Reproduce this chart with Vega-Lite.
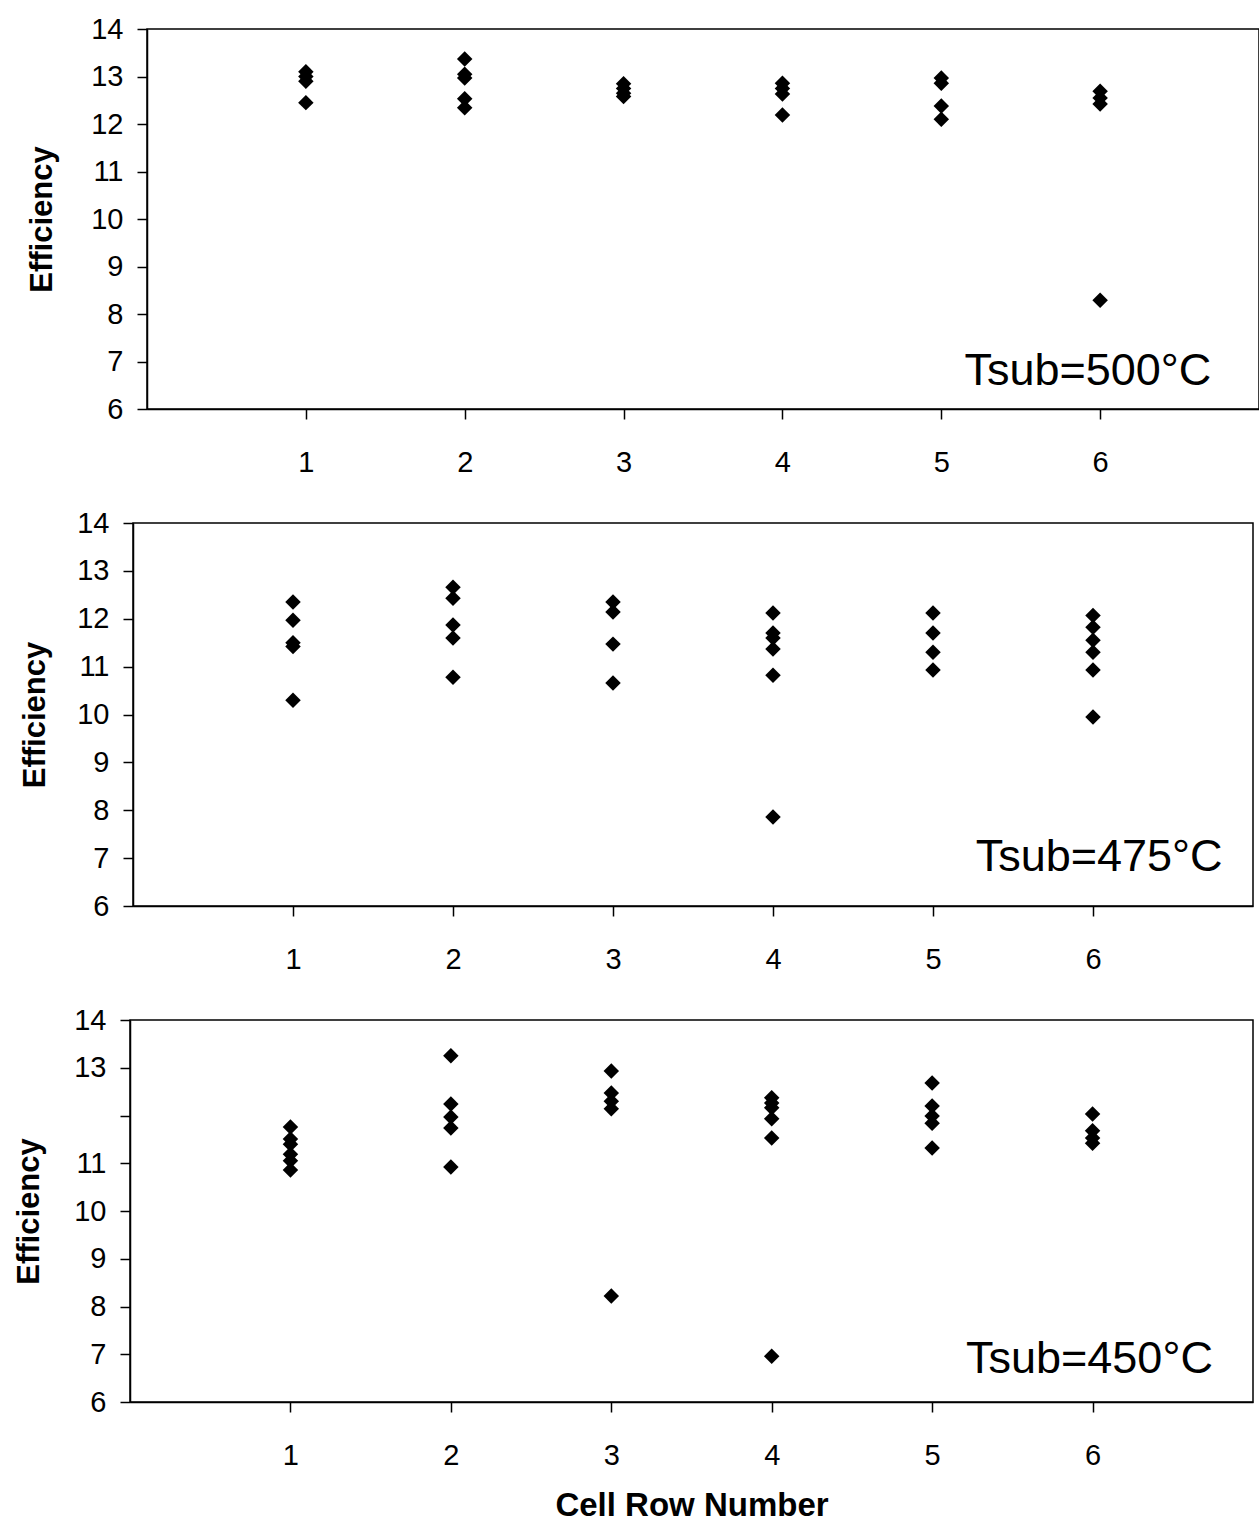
{
  "$schema": "https://vega.github.io/schema/vega-lite/v6.json",
  "padding": {"left": 0, "top": 14, "right": 0, "bottom": 0},
  "spacing": 30,
  "config": {
    "font": "Liberation Sans",
    "view": {"stroke": "black", "strokeWidth": 1.5},
    "concat": {"spacing": 0},
    "axis": {
      "domainColor": "black", "domainWidth": 1.5, "tickColor": "black", "tickWidth": 1.5,
      "labelColor": "black", "titleColor": "black", "grid": false,
      "labelFont": "Liberation Sans", "titleFont": "Liberation Sans"
    }
  },
  "datasets": {
    "pts": [
      {"panel": "500", "row": 1, "eff": 13.1}, {"panel": "500", "row": 1, "eff": 13.0}, {"panel": "500", "row": 1, "eff": 12.9}, {"panel": "500", "row": 1, "eff": 12.45},
      {"panel": "500", "row": 2, "eff": 13.37}, {"panel": "500", "row": 2, "eff": 13.05}, {"panel": "500", "row": 2, "eff": 12.97}, {"panel": "500", "row": 2, "eff": 12.53}, {"panel": "500", "row": 2, "eff": 12.34},
      {"panel": "500", "row": 3, "eff": 12.85}, {"panel": "500", "row": 3, "eff": 12.75}, {"panel": "500", "row": 3, "eff": 12.65}, {"panel": "500", "row": 3, "eff": 12.58},
      {"panel": "500", "row": 4, "eff": 12.86}, {"panel": "500", "row": 4, "eff": 12.75}, {"panel": "500", "row": 4, "eff": 12.63}, {"panel": "500", "row": 4, "eff": 12.19},
      {"panel": "500", "row": 5, "eff": 12.97}, {"panel": "500", "row": 5, "eff": 12.86}, {"panel": "500", "row": 5, "eff": 12.38}, {"panel": "500", "row": 5, "eff": 12.1},
      {"panel": "500", "row": 6, "eff": 12.69}, {"panel": "500", "row": 6, "eff": 12.55}, {"panel": "500", "row": 6, "eff": 12.42}, {"panel": "500", "row": 6, "eff": 8.29},

      {"panel": "475", "row": 1, "eff": 12.35}, {"panel": "475", "row": 1, "eff": 11.97}, {"panel": "475", "row": 1, "eff": 11.5}, {"panel": "475", "row": 1, "eff": 11.42}, {"panel": "475", "row": 1, "eff": 10.3},
      {"panel": "475", "row": 2, "eff": 12.66}, {"panel": "475", "row": 2, "eff": 12.43}, {"panel": "475", "row": 2, "eff": 11.87}, {"panel": "475", "row": 2, "eff": 11.6}, {"panel": "475", "row": 2, "eff": 10.78},
      {"panel": "475", "row": 3, "eff": 12.35}, {"panel": "475", "row": 3, "eff": 12.14}, {"panel": "475", "row": 3, "eff": 11.47}, {"panel": "475", "row": 3, "eff": 10.66},
      {"panel": "475", "row": 4, "eff": 12.12}, {"panel": "475", "row": 4, "eff": 11.7}, {"panel": "475", "row": 4, "eff": 11.6}, {"panel": "475", "row": 4, "eff": 11.37}, {"panel": "475", "row": 4, "eff": 10.82}, {"panel": "475", "row": 4, "eff": 7.86},
      {"panel": "475", "row": 5, "eff": 12.12}, {"panel": "475", "row": 5, "eff": 11.7}, {"panel": "475", "row": 5, "eff": 11.3}, {"panel": "475", "row": 5, "eff": 10.93},
      {"panel": "475", "row": 6, "eff": 12.07}, {"panel": "475", "row": 6, "eff": 11.82}, {"panel": "475", "row": 6, "eff": 11.55}, {"panel": "475", "row": 6, "eff": 11.3}, {"panel": "475", "row": 6, "eff": 10.93}, {"panel": "475", "row": 6, "eff": 9.95},

      {"panel": "450", "row": 1, "eff": 11.76}, {"panel": "450", "row": 1, "eff": 11.51}, {"panel": "450", "row": 1, "eff": 11.4}, {"panel": "450", "row": 1, "eff": 11.19}, {"panel": "450", "row": 1, "eff": 11.05}, {"panel": "450", "row": 1, "eff": 10.86},
      {"panel": "450", "row": 2, "eff": 13.25}, {"panel": "450", "row": 2, "eff": 12.24}, {"panel": "450", "row": 2, "eff": 11.97}, {"panel": "450", "row": 2, "eff": 11.74}, {"panel": "450", "row": 2, "eff": 10.92},
      {"panel": "450", "row": 3, "eff": 12.93}, {"panel": "450", "row": 3, "eff": 12.47}, {"panel": "450", "row": 3, "eff": 12.3}, {"panel": "450", "row": 3, "eff": 12.14}, {"panel": "450", "row": 3, "eff": 8.22},
      {"panel": "450", "row": 4, "eff": 12.37}, {"panel": "450", "row": 4, "eff": 12.26}, {"panel": "450", "row": 4, "eff": 12.16}, {"panel": "450", "row": 4, "eff": 11.93}, {"panel": "450", "row": 4, "eff": 11.53}, {"panel": "450", "row": 4, "eff": 6.96},
      {"panel": "450", "row": 5, "eff": 12.68}, {"panel": "450", "row": 5, "eff": 12.2}, {"panel": "450", "row": 5, "eff": 11.99}, {"panel": "450", "row": 5, "eff": 11.84}, {"panel": "450", "row": 5, "eff": 11.32},
      {"panel": "450", "row": 6, "eff": 12.03}, {"panel": "450", "row": 6, "eff": 11.68}, {"panel": "450", "row": 6, "eff": 11.53}, {"panel": "450", "row": 6, "eff": 11.42}
    ],
    "labels": [
      {"panel": "500", "text": "Tsub=500°C", "lx": 6.7, "ly": 6.8},
      {"panel": "475", "text": "Tsub=475°C", "lx": 6.81, "ly": 7.02},
      {"panel": "450", "text": "Tsub=450°C", "lx": 6.75, "ly": 6.9}
    ],
    "blank": [{"k": ""}]
  },
  "vconcat": [
    {
      "hconcat": [
        {"width": 25, "height": 1, "view": {"stroke": null}, "data": {"name": "blank"}, "mark": {"type": "text"}, "encoding": {"text": {"field": "k"}}},
        {
          "width": 1112, "height": 380,
          "layer": [
            {
              "data": {"name": "pts"},
              "transform": [{"filter": "datum.panel === '500'"}],
              "mark": {"type": "point", "shape": "diamond", "filled": true, "color": "black", "size": 240, "opacity": 1},
              "encoding": {
                "x": {"field": "row", "type": "quantitative", "scale": {"domain": [0, 7], "nice": false},
                      "axis": {"values": [1, 2, 3, 4, 5, 6], "format": "d", "title": null, "labelFontSize": 29, "tickSize": 10, "labelPadding": 29}},
                "y": {"field": "eff", "type": "quantitative", "scale": {"domain": [6, 14], "nice": false, "zero": false},
                      "axis": {"values": [6, 7, 8, 9, 10, 11, 12, 13, 14], "title": "Efficiency", "titleFontSize": 31, "titleFontWeight": "bold",
                               "labelFontSize": 29, "tickSize": 10, "labelPadding": 14, "titlePadding": 32}}
              }
            },
            {
              "data": {"name": "labels"},
              "transform": [{"filter": "datum.panel === '500'"}],
              "mark": {"type": "text", "align": "right", "baseline": "middle", "fontSize": 45, "color": "black"},
              "encoding": {"x": {"field": "lx", "type": "quantitative"}, "y": {"field": "ly", "type": "quantitative"}, "text": {"field": "text"}}
            }
          ]
        }
      ]
    },
    {
      "hconcat": [
        {"width": 18, "height": 1, "view": {"stroke": null}, "data": {"name": "blank"}, "mark": {"type": "text"}, "encoding": {"text": {"field": "k"}}},
        {
          "width": 1120, "height": 383,
          "layer": [
            {
              "data": {"name": "pts"},
              "transform": [{"filter": "datum.panel === '475'"}],
              "mark": {"type": "point", "shape": "diamond", "filled": true, "color": "black", "size": 240, "opacity": 1},
              "encoding": {
                "x": {"field": "row", "type": "quantitative", "scale": {"domain": [0, 7], "nice": false},
                      "axis": {"values": [1, 2, 3, 4, 5, 6], "format": "d", "title": null, "labelFontSize": 29, "tickSize": 10, "labelPadding": 29}},
                "y": {"field": "eff", "type": "quantitative", "scale": {"domain": [6, 14], "nice": false, "zero": false},
                      "axis": {"values": [6, 7, 8, 9, 10, 11, 12, 13, 14], "title": "Efficiency", "titleFontSize": 31, "titleFontWeight": "bold",
                               "labelFontSize": 29, "tickSize": 10, "labelPadding": 14, "titlePadding": 25}}
              }
            },
            {
              "data": {"name": "labels"},
              "transform": [{"filter": "datum.panel === '475'"}],
              "mark": {"type": "text", "align": "right", "baseline": "middle", "fontSize": 45, "color": "black"},
              "encoding": {"x": {"field": "lx", "type": "quantitative"}, "y": {"field": "ly", "type": "quantitative"}, "text": {"field": "text"}}
            }
          ]
        }
      ]
    },
    {
      "hconcat": [
        {"width": 12, "height": 1, "view": {"stroke": null}, "data": {"name": "blank"}, "mark": {"type": "text"}, "encoding": {"text": {"field": "k"}}},
        {
          "width": 1123, "height": 382,
          "layer": [
            {
              "data": {"name": "pts"},
              "transform": [{"filter": "datum.panel === '450'"}],
              "mark": {"type": "point", "shape": "diamond", "filled": true, "color": "black", "size": 240, "opacity": 1},
              "encoding": {
                "x": {"field": "row", "type": "quantitative", "scale": {"domain": [0, 7], "nice": false},
                      "axis": {"values": [1, 2, 3, 4, 5, 6], "format": "d", "title": "Cell Row Number", "titleFontSize": 33, "titleFontWeight": "bold", "titlePadding": 19,
                               "labelFontSize": 29, "tickSize": 10, "labelPadding": 29}},
                "y": {"field": "eff", "type": "quantitative", "scale": {"domain": [6, 14], "nice": false, "zero": false},
                      "axis": {"values": [6, 7, 8, 9, 10, 11, 12, 13, 14], "labelExpr": "datum.value === 12 ? '' : datum.label",
                               "title": "Efficiency", "titleFontSize": 31, "titleFontWeight": "bold",
                               "labelFontSize": 29, "tickSize": 10, "labelPadding": 14, "titlePadding": 28}}
              }
            },
            {
              "data": {"name": "labels"},
              "transform": [{"filter": "datum.panel === '450'"}],
              "mark": {"type": "text", "align": "right", "baseline": "middle", "fontSize": 45, "color": "black"},
              "encoding": {"x": {"field": "lx", "type": "quantitative"}, "y": {"field": "ly", "type": "quantitative"}, "text": {"field": "text"}}
            }
          ]
        }
      ]
    }
  ]
}
